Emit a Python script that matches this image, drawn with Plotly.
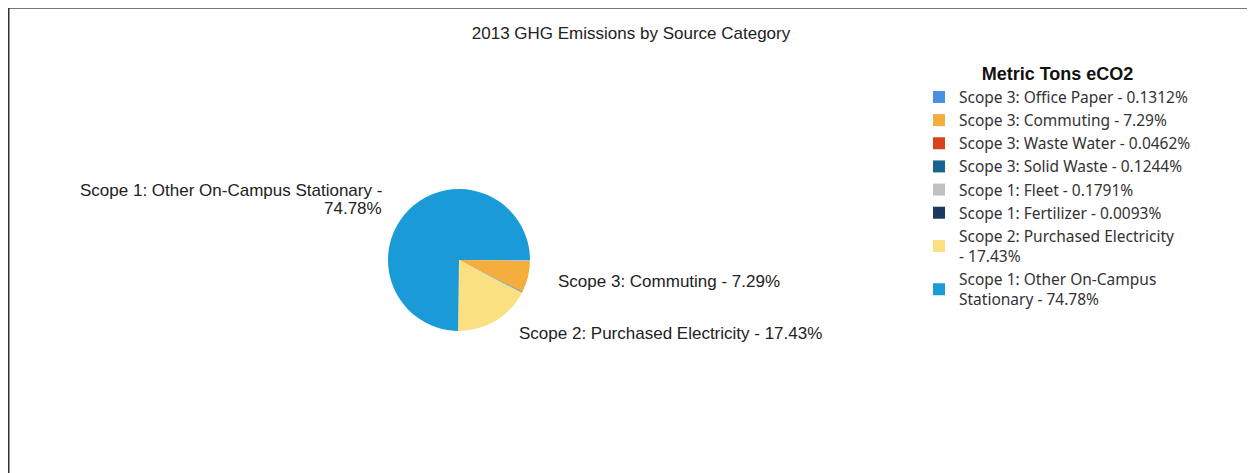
import plotly.graph_objects as go

categories = [
    "Scope 3: Office Paper",
    "Scope 3: Commuting",
    "Scope 3: Waste Water",
    "Scope 3: Solid Waste",
    "Scope 1: Fleet",
    "Scope 1: Fertilizer",
    "Scope 2: Purchased Electricity",
    "Scope 1: Other On-Campus Stationary",
]
percent_labels = ["0.1312", "7.29", "0.0462", "0.1244", "0.1791", "0.0093", "17.43", "74.78"]
values = [float(v) for v in percent_labels]
legend_names = [
    "Scope 3: Office Paper - 0.1312%",
    "Scope 3: Commuting - 7.29%",
    "Scope 3: Waste Water - 0.0462%",
    "Scope 3: Solid Waste - 0.1244%",
    "Scope 1: Fleet - 0.1791%",
    "Scope 1: Fertilizer - 0.0093%",
    "Scope 2: Purchased Electricity<br>- 17.43%",
    "Scope 1: Other On-Campus<br>Stationary - 74.78%",
]
colors = ["#4a8fe0", "#f5ad3c", "#d9431b", "#17658f", "#c0c0c0", "#1b3a5e", "#fbe082", "#1a9bd7"]

W, H = 1255, 473
OFF = 8  # page body margin


def px(x):
    return (x - OFF) / W


def py(y):
    return 1 - (y - OFF) / H


fig = go.Figure(
    go.Pie(
        labels=legend_names,
        values=values,
        marker=dict(colors=colors, line=dict(width=0)),
        sort=False,
        direction="clockwise",
        rotation=90,
        textinfo="none",
        hoverinfo="label",
        domain=dict(x=[px(388), px(530)], y=[py(331), py(189)]),
    )
)

FONT = "Liberation Sans, Arial, sans-serif"
label_font = dict(family=FONT, size=17, color="#222222")
# Outer labels for the visible slices
fig.add_annotation(
    x=px(384), y=py(190), xref="paper", yref="paper", xanchor="right", yanchor="middle",
    text=f"{categories[7]} -", showarrow=False, font=label_font,
)
fig.add_annotation(
    x=px(384), y=py(208), xref="paper", yref="paper", xanchor="right", yanchor="middle",
    text=f"{percent_labels[7]}%", showarrow=False, font=label_font,
)
fig.add_annotation(
    x=px(556), y=py(281), xref="paper", yref="paper", xanchor="left", yanchor="middle",
    text=f"{categories[1]} - {percent_labels[1]}%", showarrow=False, font=label_font,
)
fig.add_annotation(
    x=px(517), y=py(333), xref="paper", yref="paper", xanchor="left", yanchor="middle",
    text=f"{categories[6]} - {percent_labels[6]}%", showarrow=False, font=label_font,
)

fig.update_layout(
    width=W,
    height=H,
    margin=dict(l=0, r=0, t=0, b=0),
    paper_bgcolor="white",
    plot_bgcolor="white",
    title=dict(
        text="2013 GHG Emissions by Source Category",
        x=px(631), y=py(33), xanchor="center", yanchor="middle",
        font=dict(family=FONT, size=17, color="#222222"),
    ),
    legend=dict(
        title=dict(text="<b>Metric Tons eCO2</b>", side="top center",
                   font=dict(family=FONT, size=18, color="#111111")),
        x=px(919), y=py(57), xanchor="left", yanchor="top",
        font=dict(family="Noto Sans, sans-serif", size=15.5, color="#333333"),
        bgcolor="rgba(0,0,0,0)",
    ),
    shapes=[
        dict(type="line", xref="paper", yref="paper", x0=px(8), x1=1, y0=py(8), y1=py(8),
             line=dict(color="#777777", width=2)),
        dict(type="line", xref="paper", yref="paper", x0=px(8.5), x1=px(8.5), y0=0, y1=py(8),
             line=dict(color="#333333", width=2)),
    ],
)

fig.write_html("out.html")
